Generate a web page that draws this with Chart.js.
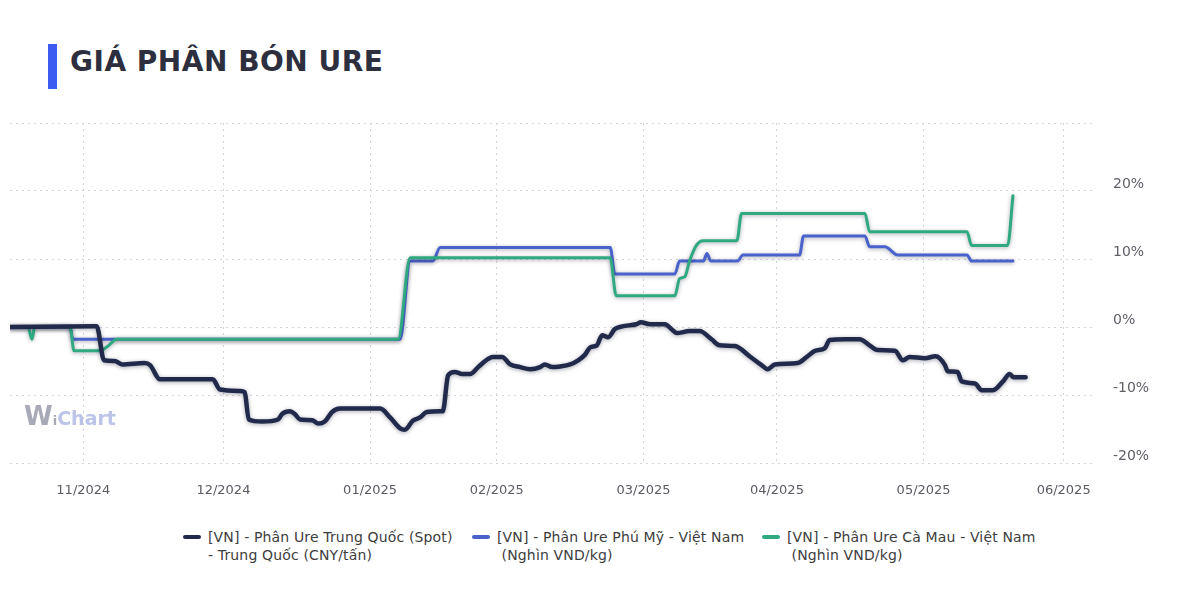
<!DOCTYPE html>
<html lang="vi">
<head>
<meta charset="utf-8">
<title>Giá phân bón Ure</title>
<script src="https://cdn.jsdelivr.net/npm/chart.js@4.4.1/dist/chart.umd.min.js"></script>
<style>
body{margin:0;background:#fff;font-family:"DejaVu Sans",sans-serif;}
#wrap{position:relative;width:1200px;height:611px;overflow:hidden;}
#bar{position:absolute;left:48px;top:44px;width:9px;height:45px;background:#3d5bf0;}
#title{position:absolute;left:70px;top:48px;font-weight:bold;font-size:28px;line-height:28px;letter-spacing:0.5px;color:#2d2f3f;}
#box{position:absolute;left:0;top:100px;width:1200px;height:410px;}
#logo{position:absolute;left:24px;top:401px;font-weight:bold;line-height:30px;}
#logo .w{color:#a9aab8;font-size:26px;}
#logo .i{color:#a9aab8;font-size:13px;}
#logo .c{color:#bcc3e8;font-size:19px;}
.item{position:absolute;top:528px;font-size:14px;line-height:18px;letter-spacing:0.15px;color:#3d3d3d;}
.item .mk{position:absolute;left:0;top:7px;width:18px;height:4px;border-radius:2px;}
.item .tx{margin-left:25px;white-space:nowrap;}
</style>
</head>
<body>
<div id="wrap">

<div id="bar"></div>
<div id="title">GIÁ PHÂN BÓN URE</div>

<div id="box"><canvas id="chartUre"></canvas></div>

<div id="logo"><span class="w">W</span><span class="i">i</span><span class="c">Chart</span></div>

<div class="item" style="left:183px"><span class="mk" style="background:#222a4c"></span>
<div class="tx">[VN] - Phân Ure Trung Quốc (Spot)<br>- Trung Quốc (CNY/tấn)</div></div>

<div class="item" style="left:472px"><span class="mk" style="background:#4a62cc"></span>
<div class="tx">[VN] - Phân Ure Phú Mỹ - Việt Nam<br>&nbsp;(Nghìn VND/kg)</div></div>

<div class="item" style="left:762px"><span class="mk" style="background:#2faa80"></span>
<div class="tx">[VN] - Phân Ure Cà Mau - Việt Nam<br>&nbsp;(Nghìn VND/kg)</div></div>

</div>

<script>

// ==========================
// DATA (% thay doi so voi dau ky, theo phien)
// ==========================

const thangLabels = ["11/2024","12/2024","01/2025","02/2025","03/2025","04/2025","05/2025","06/2025"];
const thangIdx = [11,32,54,73,95,115,137,158];

// Trung Quoc (Spot)
const tqX = [0,12.7,13.0,14.1,15.7,16.8,20.2,21.0,22.5,30.4,31.5,34.5,35.2,35.8,37.8,40.2,40.8,42.0,42.7,43.5,
45.3,46.2,47.2,48.3,49.5,55.5,57.0,58.5,59.2,60.4,61.5,62.5,64.5,64.9,65.7,66.7,67.8,69.0,70.2,71.7,
72.4,73.8,75.0,76.5,78.0,79.5,80.2,81.3,82.5,84.0,85.2,86.2,87.0,88.0,88.8,89.7,90.7,91.8,93.9,94.6,
96.0,98.2,99.3,100.0,101.9,103.4,105.2,106.4,108.7,110.9,112.7,113.6,114.7,118.1,119.6,120.7,122.2,122.9,125.2,127.4,
128.9,130.1,132.7,133.9,134.9,137.2,138.8,140.2,140.6,142.1,142.7,144.7,145.7,147.4,148.9,149.9,150.5,152.3];
const tqY = [0,0.1,0.1,-4.9,-5.0,-5.5,-5.3,-5.6,-7.7,-7.7,-9.2,-9.4,-9.6,-13.6,-13.9,-13.6,-12.8,-12.4,-12.8,-13.6,
-13.7,-14.2,-13.9,-12.5,-12.0,-12.0,-13.3,-14.9,-15.1,-13.8,-13.3,-12.5,-12.4,-12.4,-7.1,-6.6,-6.9,-6.9,-5.9,-4.7,
-4.4,-4.4,-5.5,-5.9,-6.2,-5.9,-5.5,-5.9,-5.8,-5.5,-4.9,-4.1,-3.0,-2.7,-1.2,-1.5,-0.3,0.1,0.4,0.7,
0.4,0.4,-0.4,-0.9,-0.6,-0.6,-1.8,-2.7,-2.8,-4.3,-5.6,-6.2,-5.5,-5.3,-4.3,-3.5,-3.1,-1.9,-1.8,-1.8,
-2.7,-3.4,-3.5,-4.9,-4.4,-4.6,-4.3,-5.6,-6.5,-6.6,-8.0,-8.3,-9.3,-9.3,-8.0,-6.9,-7.4,-7.4];

// Phu My - Viet Nam
const pmX = [0,9.0,9.4,58.5,60.0,63.4,64.5,90.0,90.7,99.7,100.4,104.0,104.5,105.1,109.1,109.9,118.4,119.0,128.2,128.9,
131.2,133.1,143.5,144.2,150.4];
const pmY = [0,0,-1.8,-1.8,9.7,9.7,11.7,11.7,7.8,7.8,9.7,9.7,10.8,9.7,9.7,10.6,10.6,13.4,13.4,11.8,
11.8,10.6,10.6,9.7,9.7];

// Ca Mau - Viet Nam
const cmX = [0,2.7,3.3,3.7,9.0,9.6,13.5,14.7,16.0,58.2,60.0,90.0,90.9,99.7,100.4,101.2,101.9,103.0,103.9,109.0,
109.7,128.2,128.9,143.5,144.2,149.6,150.4];
const cmY = [0,0,-1.8,0,0,-3.5,-3.5,-2.8,-1.8,-1.8,10.2,10.2,4.6,4.6,7.1,7.4,9.7,12.1,12.7,12.7,
16.7,16.7,14.0,14.0,12.0,12.0,19.3];

const yTicks = [-20,-10,0,10,20,30];



// ==========================
// HELPER
// ==========================

function ghep(xs, ys){
  return xs.map(function(x, i){ return {x:x, y:ys[i]}; });
}

const bongMo = {
  id:"bongMo",
  beforeDatasetDraw:function(chart){
    const ctx = chart.ctx;
    ctx.save();
    ctx.shadowColor = "rgba(10,15,40,0.35)";
    ctx.shadowBlur = 4;
    ctx.shadowOffsetY = 1;
  },
  afterDatasetDraw:function(chart){
    chart.ctx.restore();
  }
};

const gridDot = {
  color:"#d4d4d8",
  lineWidth:1
};



// ==========================
// CHART
// ==========================

new Chart(
document.getElementById("chartUre"),
{
type:"line",

data:{
  datasets:[
    {
      label:"[VN] - Phân Ure Trung Quốc (Spot) - Trung Quốc (CNY/tấn)",
      data:ghep(tqX, tqY),
      borderColor:"#222a4c",
      borderWidth:4.5
    },
    {
      label:"[VN] - Phân Ure Cà Mau - Việt Nam (Nghìn VND/kg)",
      data:ghep(cmX, cmY),
      borderColor:"#2faa80",
      borderWidth:3
    },
    {
      label:"[VN] - Phân Ure Phú Mỹ - Việt Nam (Nghìn VND/kg)",
      data:ghep(pmX, pmY),
      borderColor:"#4a62cc",
      borderWidth:3
    }
  ]
},

options:{
  responsive:true,
  maintainAspectRatio:false,
  animation:false,
  layout:{ padding:{ left:10, top:23, right:0, bottom:0 } },

  elements:{
    point:{ radius:0 },
    line:{ cubicInterpolationMode:"monotone", borderJoinStyle:"round", borderCapStyle:"round" }
  },

  plugins:{
    legend:{ display:false },
    tooltip:{ enabled:false }
  },

  scales:{
    x:{
      type:"linear",
      min:0,
      max:162.4,
      afterBuildTicks:function(scale){
        scale.ticks = thangIdx.map(function(v){ return {value:v}; });
      },
      afterFit:function(scale){ scale.height = 47; },
      ticks:{
        autoSkip:false,
        maxRotation:0,
        padding:20,
        color:"#5a5b63",
        font:{ family:"DejaVu Sans", size:13 },
        callback:function(value){
          const k = thangIdx.indexOf(value);
          return k >= 0 ? thangLabels[k] : "";
        }
      },
      grid:{ color:gridDot.color, lineWidth:gridDot.lineWidth, drawTicks:false },
      border:{ display:false, dash:[2,4] }
    },

    y:{
      position:"right",
      min:-20,
      max:30,
      afterBuildTicks:function(scale){
        scale.ticks = yTicks.map(function(v){ return {value:v}; });
      },
      afterFit:function(scale){
        scale.width = 107;
        scale.paddingTop = 0;
        scale.paddingBottom = 0;
      },
      ticks:{
        padding:20,
        labelOffset:-7,
        color:"#5f6068",
        font:{ family:"DejaVu Sans", size:14 },
        callback:function(value){
          return value === 30 ? "" : value + "%";
        }
      },
      grid:{ color:gridDot.color, lineWidth:gridDot.lineWidth, drawTicks:false },
      border:{ display:false, dash:[2,4] }
    }
  }
},

plugins:[bongMo]

});

</script>
</body>
</html>
